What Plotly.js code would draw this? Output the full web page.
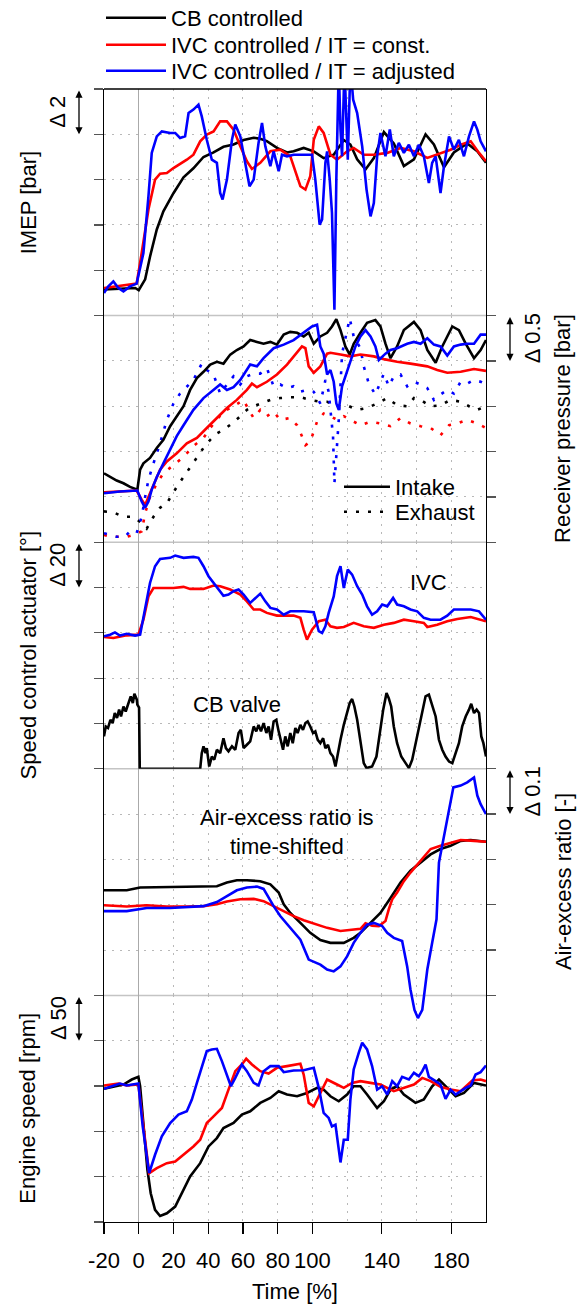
<!DOCTYPE html>
<html>
<head>
<meta charset="utf-8">
<script src="https://cdn.plot.ly/plotly-3.0.1.min.js"></script>
<style>html,body{margin:0;padding:0;background:#fff}#chart{width:584px;height:1306px}</style>
</head>
<body>
<div id="chart"></div>
<script>
// ---------- data (time in %, values relative; only differences Δ are meaningful) ----------
const seriesNames = ['CB controlled', 'IVC controlled / IT = const.', 'IVC controlled / IT = adjusted'];
const xTickVals = [-20, 0, 20, 40, 60, 80, 100, 140, 180];

// IMEP [bar]
const imep_cb_t = [-20,-2,0,3.7,6.5,10.4,14.2,20,25.8,31.5,37.3,43.1,48.8,54.6,60.4,66.2,70,73.8,79.6,85.4,89.2,95,100.8,106.5,112.3,118.1,121.9,125.8,130.6,135.4,141.2,146.9,152.7,158.5,165.2,170,175.8,181.5,189.2,195,200];
const imep_cb = [1.15,1.22,1.12,1.6,2.6,3.8,4.6,5.4,6.1,6.5,7.0,7.2,7.45,7.55,7.75,7.85,7.8,7.7,7.4,7.2,7.25,7.4,7.25,6.95,7.1,7.75,7.55,6.9,6.45,6.95,8.1,7.6,6.6,6.9,8.0,7.55,6.55,7.2,7.6,7.25,6.75];
const imep_ivc_t = [-20,-1.2,1.7,5.6,9.4,12.3,16.2,20,27.7,31.5,35.4,39.2,43.1,46.9,50.8,54.6,58.5,62.3,65.2,70,75.8,81.5,87.3,93.1,96,98.8,100.8,103.7,106.5,110.4,114.2,120,123.8,129.6,135.4,143.1,150.8,158.5,166.2,171.9,179.6,185.4,191.2,196,200];
const imep_ivc = [1.22,1.41,2.76,4.68,6.0,6.26,6.29,6.51,6.88,7.1,7.69,7.99,8.13,8.57,8.57,8.21,7.47,6.81,6.47,6.74,7.25,7.32,7.03,5.71,5.56,6.15,7.76,8.35,8.06,7.1,6.88,7.25,7.4,7.1,7.1,7.18,7.4,7.25,6.96,7.1,7.32,7.54,7.69,7.18,6.81];
const imep_adj_t = [-20,-17.5,-14.6,-11.7,-8.8,-5,-1.2,2.7,5.6,7.5,10.4,13.3,18.1,21,23.8,26.7,28.7,31.5,34.4,36.3,39.2,42.1,45,46.9,48.3,50.8,53.7,55.6,58.5,61.3,63.8,66.2,69,71,72.9,75.8,77.7,80.6,82.5,85.4,89.2,99.8,101.7,104.2,105.6,107.5,108.5,110,111.3,112.7,113.8,115.2,116.2,117.1,118.5,120.4,121.9,123.5,125.8,128.7,131.2,133.5,135.4,137.3,139.2,142.1,144.6,146.9,149.8,152.7,155.6,158.5,161.3,164.2,167.1,169,171,173.8,175.8,178.7,181.5,184.4,187.3,190.2,193.1,195,196.9,200];
const imep_adj = [1.0,1.29,1.51,1.22,1.07,1.29,1.41,2.76,5.26,7.18,7.91,8.13,8.06,8.06,7.84,7.91,8.94,9.09,9.31,8.79,7.76,6.88,6.74,5.41,5.12,6.0,7.76,8.43,7.91,6.74,5.71,6.0,7.62,8.5,7.47,6.59,7.25,6.37,7.1,7.03,7.1,7.1,6.0,4.01,4.24,6.74,7.25,6.0,4.53,0.26,6.0,11,8.21,7.03,11,6.88,11,9.53,8.94,7.47,5.56,4.38,4.97,7.03,8.06,7.03,8.21,7.03,7.62,7.18,7.54,7.03,7.54,7.03,5.85,6.74,7.03,5.41,6.59,7.91,7.32,7.76,7.03,7.91,8.57,8.21,7.69,7.25];

// Receiver pressure [bar] - intake (solid) and exhaust (dotted)
const pin_cb_t = [-20,-16.5,-12.7,-8.8,-5,-0.8,0.8,2.7,6.5,10.4,14.2,18.1,21.9,25.8,29.6,33.5,37.3,41.2,45,48.8,52.7,56.5,60.4,64.2,68.1,71.9,75.8,79.6,83.5,87.3,91.2,95,97.9,100.8,104.6,108.5,111.3,113.8,116.2,119,121.5,123.8,127.7,131.5,136.3,139.2,142.1,145,148.8,152.7,158.5,162.3,166.2,171,174.8,180.6,184.4,188.3,193.1,196.9,200];
const pin_cb = [0.76,0.72,0.68,0.65,0.61,0.58,0.8,0.87,0.93,1.04,1.13,1.28,1.39,1.5,1.68,1.81,1.88,1.96,1.99,1.97,2.07,2.12,2.16,2.23,2.21,2.19,2.21,2.18,2.29,2.32,2.31,2.27,2.31,2.19,2.27,2.31,2.38,2.46,2.34,2.16,2.07,2.19,2.31,2.42,2.45,2.38,2.19,2.03,2.16,2.34,2.43,2.34,2.12,1.98,2.16,2.38,2.34,2.19,2.03,2.12,2.23];
const pin_ivc_t = [-20,-1.2,1.7,3.7,5.6,8.5,12.3,16.2,21.9,27.7,33.5,39.2,45,50.8,56.5,62.3,65.2,68.1,73.8,79.6,85.4,89.2,94,96,97.9,100.8,104.6,108.5,110.4,116.2,121.9,127.7,135.4,141.2,148.8,156.5,166.2,171.9,177.7,185.4,193.1,200];
const pin_ivc = [0.55,0.57,0.47,0.41,0.5,0.63,0.8,0.89,0.98,1.09,1.15,1.26,1.37,1.48,1.57,1.68,1.75,1.71,1.77,1.85,1.96,2.05,2.16,2.14,1.94,1.87,1.94,2.08,2.09,2.07,2.05,2.07,2.05,2.02,1.99,1.97,1.94,1.9,1.87,1.88,1.91,1.89];
const pin_adj_t = [-20,-10.8,-0.8,1.7,3.7,5.6,7.5,10.4,14.2,18.1,21.9,25.8,31.5,37.3,43.1,46.9,50.8,54.6,58.5,64.2,68.1,71.9,77.7,83.5,89.2,95,99.8,102.7,104.6,106.5,108.5,110.4,112.3,113.8,115.2,117.1,119,121.9,124.8,127.7,130.6,133.5,136.3,138.3,142.1,145,148.8,154.6,158.5,162.3,166.2,170,173.8,177.7,181.5,185.4,189.2,193.1,196.9,200];
const pin_adj = [0.54,0.56,0.57,0.45,0.38,0.45,0.58,0.72,0.87,1.02,1.17,1.29,1.46,1.59,1.68,1.74,1.68,1.71,1.79,1.96,1.94,2.03,2.14,2.18,2.23,2.31,2.38,2.4,2.16,2.08,1.85,1.9,1.77,1.53,1.46,1.72,1.83,2.01,2.16,2.27,2.34,2.27,2.16,2.01,2.08,2.12,2.14,2.19,2.21,2.19,2.25,2.18,2.16,2.06,2.16,2.18,2.19,2.19,2.29,2.29];
const pex_cb_t = [-20,-14.6,-8.8,-3.1,1.7,4.6,8.5,12.3,16.2,19,21.9,25.8,29.6,33.5,37.3,41.2,45,48.8,53.7,58.5,62.3,66.2,70,75.8,81.5,87.3,93.1,98.8,104.6,108.5,112.3,116.2,120,125.8,131.5,137.3,143.1,148.8,154.6,158.5,162.3,168.1,173.8,179.6,185.4,190.2,195,200];
const pex_cb = [0.34,0.33,0.28,0.28,0.21,0.15,0.28,0.38,0.43,0.52,0.61,0.72,0.83,0.93,1.04,1.13,1.2,1.24,1.31,1.39,1.46,1.5,1.53,1.57,1.59,1.6,1.6,1.57,1.55,1.55,1.51,1.5,1.51,1.46,1.48,1.53,1.59,1.51,1.5,1.59,1.57,1.5,1.51,1.57,1.55,1.5,1.46,1.5];
const pex_ivc_t = [-20,-16.5,-11.7,-6.9,-3.1,1.7,3.7,6.5,10.4,14.2,20,25.8,31.5,37.3,41.2,45,48.8,54.6,60.4,63.3,66.2,70,73.8,77.7,81.5,87.3,91.2,94,96,98.8,102.7,106.5,110.4,114.2,118.1,121.9,127.7,133.5,139.2,145,150.8,156.5,162.3,168.1,173.8,178.7,183.5,189.2,195,200];
const pex_ivc = [0.08,0.06,0.06,0.06,0.08,0.12,0.32,0.5,0.65,0.76,0.85,0.94,1.06,1.15,1.26,1.35,1.44,1.5,1.57,1.46,1.37,1.46,1.39,1.44,1.35,1.37,1.29,1.17,1.07,1.11,1.33,1.42,1.39,1.35,1.39,1.35,1.29,1.33,1.31,1.28,1.37,1.31,1.28,1.26,1.18,1.29,1.31,1.35,1.31,1.26];
const pex_adj_t = [-20,-16.5,-12.7,-7.9,-5,-1.2,1.7,3.7,5.6,8.5,12.3,16.2,20,23.8,27.7,31.5,36.3,39.2,43.1,46.9,50.8,54.6,58.5,62.3,66.2,70,73.8,77.7,81.5,85.4,89.2,93.1,96.9,100.8,104.6,107.5,109.4,110.8,111.9,112.7,113.8,115.2,117.1,120,121.5,123.8,127.7,129.6,132.5,136.3,139.2,141.2,144,146.9,150.8,154.6,158.5,162.3,166.2,170,173.8,177.7,181.5,185.4,189.2,193.1,196.9,200];
const pex_adj = [0.1,0.08,0.06,0.06,0.12,0.1,0.28,0.5,0.69,0.87,1.09,1.35,1.53,1.64,1.72,1.79,1.97,1.9,1.85,1.64,1.74,1.83,1.74,1.83,1.86,1.86,1.92,1.72,1.74,1.7,1.72,1.66,1.68,1.66,1.53,1.79,1.66,1.39,1.17,0.65,0.94,1.35,2.08,2.34,2.47,2.27,2.14,1.94,1.75,1.63,1.77,1.86,1.72,1.83,1.85,1.72,1.77,1.74,1.7,1.57,1.63,1.68,1.64,1.77,1.75,1.79,1.77,1.74];

// Speed control actuator [°]: IVC (red, blue) and CB valve (black)
const act_ivc_t = [-20,-14.6,-6.9,-0.2,2.7,5.6,8.5,14.2,20,25.8,29.6,37.3,43.1,46.9,52.7,58.5,62.3,66.2,70,73.8,79.6,89.2,93.1,95,96.9,99.8,103.7,107.5,110.4,114.2,118.1,123.8,129.6,135.4,141.2,146.9,152.7,158.5,164.2,166.2,171.9,177.7,183.5,191.2,196,200];
const act_ivc = [58.2,57.7,58.9,59.2,65.8,76.1,79.8,79.8,79.8,80.3,79.4,79.4,80.9,80.6,79.1,76.9,73.9,70.3,70.3,68.8,67.6,67.6,66.6,61.4,57,61.4,65.1,65.8,62.9,62.2,62.6,64.4,62.9,62.2,63.6,64.4,65.8,65.1,64.4,62.6,63.6,65.1,66.1,67,65.8,65.1];
const act_adj_t = [-20,-16.5,-13.7,-10.8,-6.9,-2.1,0.8,3.7,6.5,9.4,12.3,18.1,21,25.8,31.5,34.4,37.3,40.2,43.1,46,48.8,51.7,54.6,57.5,60.4,64.2,68.1,70,72.9,75.8,79.6,83.5,87.3,95,100.8,103.7,105.6,107.5,109.4,112.3,114.2,116.2,118.1,120.4,122.9,125.8,128.7,131.5,134.4,137.3,140.2,143.1,146.5,148.8,152.7,156.5,160.4,164.2,168.1,173.8,177.7,181.5,185.4,191.2,196,200];
const act_adj = [58.5,59.2,60.2,58.8,59.6,58.8,59.2,71.7,82,89.4,92.6,93.1,94.1,93.1,93.5,93.1,89.4,85,82,79.1,76.4,76.9,78.4,79.1,76.9,73.2,76.1,77.3,73.9,71,70.3,68,69.5,69.5,69.1,60.7,59.9,62.9,68.8,76.1,85,89.4,79.8,87.9,85.7,80.6,76.9,71.7,68,69.5,72.5,71.7,75.4,72.5,71.7,70.3,69.5,66.6,65.8,65.8,67.6,70.3,70.3,70.3,69.5,65.8];
const cbv_t = [-20,-19,-17.7,-16.3,-15,-13.8,-12.5,-11.3,-10.2,-8.8,-7.5,-5.9,-4.6,-3.4,-2.5,-1.1,-0.8,0.2,0.6,35.4,36.3,37.3,38.5,39.2,40.6,42.1,43.5,45,46.9,48.8,50.2,51.7,53.7,55.6,57.5,58.8,60.4,62.3,64.2,66.2,67.7,69,70.4,71.9,73.5,74.8,76.2,77.7,79.2,80.6,81.9,83.1,84.4,85.8,87.3,88.7,90.2,91.5,93.1,94.6,96,97.3,98.8,100.4,101.7,103.1,104.6,106.2,107.5,109,110.4,111.9,113.3,114.6,116.2,118.1,120,121.5,122.9,124.2,125.8,127.7,129.6,131.2,134.4,136.9,138.8,140.8,142.7,144,145.4,146.9,148.8,151.2,153.7,155.6,157.5,159.4,161.3,163.3,165.2,167.1,169,171,172.9,174.8,176.7,178.7,180.6,182.5,184.4,186.3,188.3,190.2,191.5,193.1,194.6,196,197.3,198.5,200];
const cbv = [14.3,18.7,18,21.6,20.2,24.6,22.4,26.1,23.1,27.5,25.3,29,32,29,33.1,30.5,28.3,27,0,0,6.9,9.9,6.9,9.1,1,5.4,4,8.4,6.9,13.5,9.1,7.7,9.9,8.4,15.8,17.2,9.1,10.6,12.1,18.7,16.5,19.4,16.5,20.2,15.8,18.7,12.8,20.9,21.6,16.5,12.8,8.4,14.3,9.9,15.8,11.3,18,15.8,19.4,17.2,20.2,20.9,18.7,15.8,16.5,12.8,11.3,13.5,9.1,10.6,6.9,5.4,1,6.9,12.8,19.4,24.6,29,30.8,27.5,21.6,12.8,2.5,0.3,1,5.4,15.8,26.1,33.4,31.2,27.5,18.7,11.3,5.4,2.5,0.3,4,11.3,18.7,26.1,32,32.7,27.5,23.1,12.8,8.4,5.4,3.2,2.5,6.9,11.3,18.7,23.1,26.1,28.7,24.6,26.1,24.6,14.3,11.3,5.4];

// Air-excess ratio [-]
const lam_cb_t = [-20,-6.9,0.8,12.3,31.5,45,50.8,56.5,62.3,70,75.8,80.6,83.5,87.3,93.1,98.8,104.6,110.4,118.1,123.8,127.7,133.5,139.2,145,150.8,156.5,162.3,168.1,173.8,179.6,185.4,191.2,200];
const lam_cb = [0.232,0.232,0.238,0.239,0.241,0.241,0.249,0.254,0.254,0.252,0.245,0.227,0.201,0.182,0.16,0.138,0.122,0.116,0.116,0.127,0.138,0.16,0.182,0.215,0.249,0.275,0.293,0.311,0.323,0.33,0.341,0.343,0.339];
const lam_ivc_t = [-20,-6.9,4.6,16.2,27.7,37.3,45,50.8,58.5,66.2,71.9,77.7,83.5,89.2,95,100.8,108.5,116.2,121.9,127.7,130.6,134.4,138.3,142.1,144,146,148.8,152.7,156.5,160.4,164.2,168.1,173.8,179.6,185.4,193.1,200];
const lam_ivc = [0.199,0.196,0.199,0.196,0.196,0.197,0.201,0.207,0.212,0.213,0.208,0.197,0.186,0.175,0.166,0.159,0.149,0.142,0.145,0.147,0.159,0.154,0.153,0.164,0.19,0.212,0.227,0.252,0.271,0.289,0.304,0.323,0.33,0.337,0.343,0.341,0.339];
const lam_adj_t = [-20,-6.9,4.6,18.1,37.3,45,50.8,56.5,62.3,68.1,71.9,74.8,77.7,81.5,87.3,93.1,97.9,104.6,108.5,112.3,116.2,120,123.8,127.7,131.5,135.4,140.2,143.1,146.9,151.7,154.6,156.5,158.8,160.8,163.3,166.2,169,171.5,172.9,175.8,178.7,181.2,185.4,189.2,193.1,195,196.9,200];
const lam_adj = [0.186,0.186,0.193,0.193,0.197,0.206,0.219,0.232,0.238,0.24,0.235,0.215,0.197,0.175,0.149,0.123,0.079,0.068,0.057,0.053,0.064,0.086,0.116,0.138,0.156,0.16,0.153,0.138,0.127,0.12,0.064,0.013,-0.032,-0.05,-0.032,0.057,0.116,0.168,0.293,0.352,0.404,0.459,0.463,0.47,0.481,0.441,0.422,0.4];

// Engine speed [rpm]
const n_cb_t = [-20,-14.6,-8.8,-4,-0.2,0.8,2.7,5,6.9,9.4,12.3,16.2,21,25.8,29.6,35.4,40.2,45,48.8,54.6,59.4,64.2,70,75.8,80.6,85.4,91.2,96.9,102.7,106.5,110.4,115.2,120,123.8,127.7,131.5,137.3,141.2,145,148.8,152.7,159.4,164.2,169,172.9,177.7,182.5,187.3,193.1,200];
const n_cb = [146.9,149.1,151.7,157.2,160.1,149.8,105.5,57.6,31.7,13.3,6.6,9.6,17,35.4,50.2,64.9,83.4,92.6,103.7,109.2,118.5,122.1,131.4,136.9,144.3,140.6,138.7,142.4,148,146.1,138.7,133.2,140.6,149.8,149.8,140.6,125.8,133.2,146.1,149.8,140.6,131.4,135.1,149.8,157.2,148,138.7,142.4,153.5,150.6];
const n_ivc_t = [-20,-16.5,-11.7,-6.9,-0.2,2.7,6,10.4,16.2,21,25.8,31.5,35.4,39.2,43.1,47.9,51.7,55.6,59.4,61.9,65.2,70,74.8,79.6,85.4,93.1,95,97.9,100.8,103.7,108.5,114.2,118.1,122.9,127.7,133.5,139.2,146.9,152.7,158.5,163.3,168.1,173.8,179.6,185.4,192.1,196.9,200];
const n_ivc = [150.6,151.7,152.8,150.6,151.7,105.5,53.9,59.4,64.9,66.8,74.2,83.4,90.8,109.2,116.6,125.8,146.1,166.4,173.8,180.1,173.8,166.4,163.8,170.1,172,174.5,162.7,131.4,127.7,138.7,157.2,151.7,148,153.5,155.4,153.5,151.7,144.3,148,151.7,159,155.4,149.1,146.1,144.3,156.1,157.2,155.4];
const n_adj_t = [-20,-16.5,-10.8,-6.9,-0.2,2.3,6,9.4,13.3,18.1,22.9,27.7,30.6,33.5,36.3,39.2,42.1,45,47.9,50.8,53.1,55.6,59.4,62.3,66.2,69,71.9,75.8,80.6,83.5,89.2,95,100.8,103.7,106.5,109.4,111.3,113.3,114.6,116.2,118.1,120.4,121.9,123.8,126.7,128.7,131.5,134.4,137.3,140.2,143.1,146,148.8,151.7,155.6,158.5,161.3,163.3,165.2,167.1,171,173.8,176.7,179.6,182.5,185.4,188.3,191.2,194,196.9,200];
const n_adj = [146.9,149.1,152.8,150.6,152.8,105.5,53.9,74.2,94.5,109.2,118.5,122.1,135.1,153.5,172,188.6,190.4,191.1,177.5,162.7,149.8,159,173.8,166.4,153.5,150.6,166.4,172,172,165.3,167.2,167.5,170.1,148,120.3,114.8,105.5,107.4,87.1,65.7,90.8,90.8,135.1,168.3,186.7,197.8,190.4,172,146.1,149.8,140.6,155.4,149.8,160.1,157.2,164.6,160.9,166.4,173.8,160.1,155.4,151.7,135.8,146.1,140.6,144.3,148,150.6,162.7,165.3,172.7];

// ---------- styling ----------
const FONT = 'Liberation Sans, Arial, sans-serif';
const COLORS = ['#000000', '#ff0000', '#0000ff'];
const LW = 2.6;
const DOTS = '3px,9px';
const GRID = '#b8b8b8';

function line(t, v, ci, yaxis, opts) {
  opts = opts || {};
  return Object.assign({
    type: 'scatter', mode: 'lines', x: t, y: v, xaxis: opts.xaxis || 'x', yaxis: yaxis,
    line: {color: COLORS[ci], width: LW, dash: opts.dash || 'solid'},
    name: seriesNames[ci], showlegend: false, hoverinfo: 'skip'
  }, opts.extra || {});
}

const traces = [
  line(imep_cb_t, imep_cb, 0, 'y', {extra: {showlegend: true, legend: 'legend'}}),
  line(imep_ivc_t, imep_ivc, 1, 'y', {extra: {showlegend: true, legend: 'legend3'}}),
  line(imep_adj_t, imep_adj, 2, 'y', {extra: {showlegend: true, legend: 'legend4'}}),

  line(pex_cb_t, pex_cb, 0, 'y2', {dash: DOTS}),
  line(pex_ivc_t, pex_ivc, 1, 'y2', {dash: DOTS}),
  line(pex_adj_t, pex_adj, 2, 'y2', {dash: DOTS}),
  line(pin_cb_t, pin_cb, 0, 'y2'),
  line(pin_ivc_t, pin_ivc, 1, 'y2'),
  line(pin_adj_t, pin_adj, 2, 'y2'),
  // legend keys for the receiver pressure panel
  {type: 'scatter', mode: 'lines', x: [null], y: [null], xaxis: 'x', yaxis: 'y2', name: 'Intake',
   line: {color: '#000', width: LW}, legend: 'legend2', showlegend: true, hoverinfo: 'skip'},
  {type: 'scatter', mode: 'lines', x: [null], y: [null], xaxis: 'x', yaxis: 'y2', name: 'Exhaust',
   line: {color: '#000', width: LW, dash: DOTS}, legend: 'legend5', showlegend: true, hoverinfo: 'skip'},

  line(cbv_t, cbv, 0, 'y3'),
  line(act_ivc_t, act_ivc, 1, 'y3'),
  line(act_adj_t, act_adj, 2, 'y3'),

  line(lam_cb_t, lam_cb, 0, 'y4'),
  line(lam_ivc_t, lam_ivc, 1, 'y4'),
  // the blue air-excess trace dips below its panel, so it sits on a twin axis with the same scale
  line(lam_adj_t, lam_adj, 2, 'y6', {xaxis: 'x2'}),

  line(n_cb_t, n_cb, 0, 'y5'),
  line(n_ivc_t, n_ivc, 1, 'y5'),
  line(n_adj_t, n_adj, 2, 'y5')
];

function ticksOf(r, step) { const a = []; for (let v = r[0]; v <= r[1] + 1e-9; v += step) a.push(+v.toFixed(4)); return a; }
function yax(domain, range, step, side) {
  return {
    domain: domain, range: range, tickvals: ticksOf(range, step), showticklabels: false,
    ticks: 'outside', ticklen: 9, tickwidth: 1.3, tickcolor: '#555', side: side,
    showline: true, mirror: true, linecolor: '#000', linewidth: 1.3,
    showgrid: true, gridcolor: GRID, griddash: '2px,6px', gridwidth: 1,
    zeroline: false, fixedrange: true, anchor: 'x'
  };
}

const P = [[0.8, 1], [0.6, 0.8], [0.4, 0.6], [0.2, 0.4], [0, 0.2]];
const ranges = {imep: [0, 10], prs: [0, 2.5], act: [0, 100], lam: [0, 0.5], n: [0, 250]};
const deltas = {imep: 2, prs: 0.5, act: 20, lam: 0.1, n: 50};

const xL = -25 / 382, xLt = -46 / 382, xLtitle = -76 / 382;
const xR = 1 + 24 / 382, xRt = 1 + 46 / 382, xRtitle = 1 + 77 / 382;

function deltaArrow(x, yref, top, d) {
  return {xref: 'paper', x: x, yref: yref, y: top - d, axref: 'pixel', ax: 0, ayref: yref, ay: top,
          text: '', showarrow: true, arrowhead: 2, startarrowhead: 2, arrowside: 'end+start',
          arrowsize: 1.1, arrowwidth: 1.3, arrowcolor: '#000', standoff: 0, startstandoff: 0};
}
function deltaText(x, yref, y, txt) {
  return {xref: 'paper', x: x, yref: yref, y: y, text: txt, showarrow: false, textangle: -90,
          font: {size: 22, color: '#000', family: FONT}, xanchor: 'center', yanchor: 'middle'};
}
function sideTitle(x, y, txt) {
  return {xref: 'paper', x: x, yref: 'paper', y: y, text: txt, showarrow: false, textangle: -90,
          font: {size: 22, color: '#000', family: FONT}, xanchor: 'center', yanchor: 'middle'};
}

const annotations = [
  deltaArrow(xL, 'y', ranges.imep[1], deltas.imep), deltaText(xLt, 'y', ranges.imep[1] - deltas.imep / 2, 'Δ 2'),
  deltaArrow(xR, 'y2', ranges.prs[1], deltas.prs), deltaText(xRt, 'y2', ranges.prs[1] - deltas.prs / 2, 'Δ 0.5'),
  deltaArrow(xL, 'y3', ranges.act[1], deltas.act), deltaText(xLt, 'y3', ranges.act[1] - deltas.act / 2, 'Δ 20'),
  deltaArrow(xR, 'y4', ranges.lam[1], deltas.lam), deltaText(xRt, 'y4', ranges.lam[1] - deltas.lam / 2, 'Δ 0.1'),
  deltaArrow(xL, 'y5', ranges.n[1], deltas.n), deltaText(xLt, 'y5', ranges.n[1] - deltas.n / 2, 'Δ 50'),
  sideTitle(xLtitle, 0.9, 'IMEP [bar]'),
  sideTitle(xRtitle, 0.7, 'Receiver pressure [bar]'),
  sideTitle(xLtitle, 0.5, 'Speed control actuator [°]'),
  sideTitle(xRtitle, 0.3, 'Air-excess ratio [-]'),
  sideTitle(xLtitle, 0.1, 'Engine speed [rpm]'),
  {xref: 'x', x: 166.6, yref: 'y3', y: 82, text: 'IVC', showarrow: false, font: {size: 22, color: '#000', family: FONT}},
  {xref: 'x', x: 56.6, yref: 'y3', y: 28.2, text: 'CB valve', showarrow: false, font: {size: 22, color: '#000', family: FONT}},
  {xref: 'x', x: 85.4, yref: 'y4', y: 0.36, text: 'Air-excess ratio is<br>time-shifted', showarrow: false,
   font: {size: 22, color: '#000', family: FONT}}
];

const shapes = [0.2, 0.4, 0.6, 0.8].map(y => ({type: 'line', xref: 'paper', yref: 'paper', x0: 0, x1: 1, y0: y, y1: y,
  line: {color: '#c4c4c4', width: 1.5}, layer: 'below'}));
shapes.push({type: 'line', xref: 'paper', yref: 'paper', x0: 0, x1: 1, y0: 1, y1: 1, line: {color: '#000', width: 1.3}});

function leg(x, y, w) {
  return {x: x, xanchor: 'left', y: y, yanchor: 'middle', bgcolor: 'rgba(0,0,0,0)',
          font: {size: 22, family: FONT, color: '#000'}, itemwidth: w, borderwidth: 0};
}
const PH = 1133; // plot height in px, used to place legend rows in paper units
const layout = {
  width: 584, height: 1306, margin: {l: 104, r: 98, t: 89, b: 84, autoexpand: false},
  paper_bgcolor: '#fff', plot_bgcolor: 'rgba(0,0,0,0)',
  font: {family: FONT, size: 22, color: '#000'},
  showlegend: true,
  legend: leg(-3 / 382, 1 + 71 / PH, 60),
  legend3: leg(-3 / 382, 1 + 44 / PH, 60),
  legend4: leg(-3 / 382, 1 + 18 / PH, 60),
  legend2: leg(235 / 382, (1222 - 487) / PH, 46),
  legend5: leg(235 / 382, (1222 - 512) / PH, 46),
  xaxis: {
    domain: [0, 1], range: [-20, 200], anchor: 'y5', tickvals: xTickVals, ticktext: xTickVals.map(String),
    ticks: 'outside', ticklen: 11, tickwidth: 1.3, tickcolor: '#000', tickfont: {size: 22, family: FONT},
    ticklabelstandoff: 7,
    showline: true, linecolor: '#000', linewidth: 1.3,
    showgrid: true, gridcolor: GRID, griddash: '2px,6px', gridwidth: 1,
    minor: {tickvals: [120, 160], showgrid: true, gridcolor: GRID, griddash: '2px,6px', gridwidth: 1, ticks: ''},
    zeroline: true, zerolinecolor: '#aaaaaa', zerolinewidth: 1.5,
    title: {text: 'Time [%]', font: {size: 22, family: FONT}, standoff: 12}, fixedrange: true
  },
  xaxis2: {domain: [0, 1], range: [-20, 200], anchor: 'y6', visible: false, fixedrange: true},
  yaxis: yax(P[0], ranges.imep, deltas.imep, 'left'),
  yaxis2: yax(P[1], ranges.prs, deltas.prs, 'right'),
  yaxis3: yax(P[2], ranges.act, deltas.act, 'left'),
  yaxis4: yax(P[3], ranges.lam, deltas.lam, 'right'),
  yaxis5: yax(P[4], ranges.n, deltas.n, 'left'),
  yaxis6: {domain: [0.17, 0.4], range: [-0.075, 0.5], anchor: 'x2', visible: false, fixedrange: true},
  annotations: annotations,
  shapes: shapes
};

Plotly.newPlot('chart', traces, layout, {displayModeBar: false, staticPlot: true});
</script>
</body>
</html>
